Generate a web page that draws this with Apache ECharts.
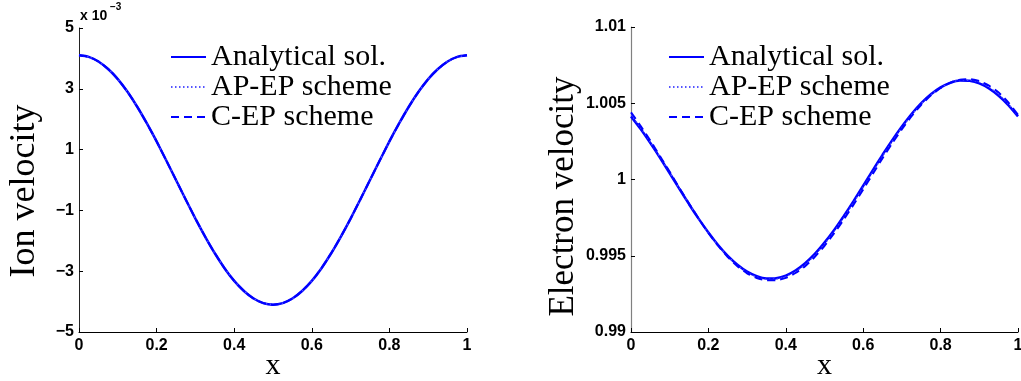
<!DOCTYPE html>
<html>
<head>
<meta charset="utf-8">
<script src="https://cdn.jsdelivr.net/npm/echarts@6/dist/echarts.min.js"></script>
<style>
  html, body { margin: 0; padding: 0; background: #fff; }
  #chart { width: 1021px; height: 381px; }
</style>
</head>
<body>
<div id="chart"></div>
<script>
// x positions of the samples
const xs = [0, 0.025, 0.05, 0.075, 0.1, 0.125, 0.15, 0.175, 0.2, 0.225, 0.25,
            0.275, 0.3, 0.325, 0.35, 0.375, 0.4, 0.425, 0.45, 0.475, 0.5,
            0.525, 0.55, 0.575, 0.6, 0.625, 0.65, 0.675, 0.7, 0.725, 0.75,
            0.775, 0.8, 0.825, 0.85, 0.875, 0.9, 0.925, 0.95, 0.975, 1];

// ion velocity, in units of 1e-3 (all three schemes lie on top of each other)
const ionAnalytical = [4.10, 4.05, 3.90, 3.65, 3.32, 2.90, 2.41, 1.86, 1.27, 0.64, 0.00,
                       -0.64, -1.27, -1.86, -2.41, -2.90, -3.32, -3.65, -3.90, -4.05, -4.10,
                       -4.05, -3.90, -3.65, -3.32, -2.90, -2.41, -1.86, -1.27, -0.64, 0.00,
                       0.64, 1.27, 1.86, 2.41, 2.90, 3.32, 3.65, 3.90, 4.05, 4.10];
const ionAPEP = [4.10, 4.05, 3.90, 3.65, 3.32, 2.90, 2.41, 1.86, 1.27, 0.64, 0.00,
                 -0.64, -1.27, -1.86, -2.41, -2.90, -3.32, -3.65, -3.90, -4.05, -4.10,
                 -4.05, -3.90, -3.65, -3.32, -2.90, -2.41, -1.86, -1.27, -0.64, 0.00,
                 0.64, 1.27, 1.86, 2.41, 2.90, 3.32, 3.65, 3.90, 4.05, 4.10];
const ionCEP = [4.10, 4.05, 3.90, 3.65, 3.32, 2.90, 2.41, 1.86, 1.27, 0.64, 0.00,
                -0.64, -1.27, -1.86, -2.41, -2.90, -3.32, -3.65, -3.90, -4.05, -4.10,
                -4.05, -3.90, -3.65, -3.32, -2.90, -2.41, -1.86, -1.27, -0.64, 0.00,
                0.64, 1.27, 1.86, 2.41, 2.90, 3.32, 3.65, 3.90, 4.05, 4.10];

// electron velocity
const elAnalytical = [1.00414, 1.00331, 1.00239, 1.00142, 1.00041, 0.99939, 0.99838, 0.99742, 0.99652, 0.99570, 0.99499,
                      0.99441, 0.99396, 0.99366, 0.99351, 0.99353, 0.99370, 0.99403, 0.99451, 0.99512, 0.99586,
                      0.99669, 0.99761, 0.99858, 0.99959, 1.00061, 1.00162, 1.00258, 1.00348, 1.00430, 1.00501,
                      1.00559, 1.00604, 1.00634, 1.00649, 1.00647, 1.00630, 1.00597, 1.00549, 1.00488, 1.00414];
const elAPEP = [1.00425, 1.00340, 1.00245, 1.00146, 1.00045, 0.99941, 0.99840, 0.99742, 0.99651, 0.99568, 0.99496,
                0.99437, 0.99390, 0.99360, 0.99346, 0.99347, 0.99363, 0.99395, 0.99442, 0.99503, 0.99576,
                0.99659, 0.99750, 0.99847, 0.99948, 1.00050, 1.00152, 1.00248, 1.00340, 1.00423, 1.00496,
                1.00556, 1.00602, 1.00634, 1.00652, 1.00652, 1.00638, 1.00606, 1.00560, 1.00496, 1.00420];
const elCEP = [1.00440, 1.00350, 1.00255, 1.00152, 1.00050, 0.99944, 0.99842, 0.99743, 0.99650, 0.99566, 0.99492,
               0.99432, 0.99385, 0.99354, 0.99340, 0.99340, 0.99355, 0.99387, 0.99432, 0.99493, 0.99565,
               0.99648, 0.99738, 0.99835, 0.99935, 1.00038, 1.00140, 1.00238, 1.00330, 1.00415, 1.00490,
               1.00552, 1.00600, 1.00635, 1.00655, 1.00658, 1.00645, 1.00615, 1.00570, 1.00505, 1.00425];

const names = ['Analytical sol.', 'AP-EP scheme', 'C-EP scheme'];

const pairs = (ys) => xs.map((x, i) => [x, ys[i]]);
const minus = (s) => String(s).replace('-', '\u2212');

const tickFont = { color: '#000', fontFamily: 'Liberation Sans', fontWeight: 'bold', fontSize: 16 };
const serif = 'Liberation Serif';

const xAxisBase = (gi) => ({
  type: 'value', gridIndex: gi, min: 0, max: 1, interval: 0.2,
  name: 'x', nameLocation: 'middle', nameGap: 19, nameMoveOverlap: false,
  nameTextStyle: { fontFamily: serif, fontSize: 30, color: '#000' },
  axisLine: { onZero: false, lineStyle: { color: '#000', width: 1 } },
  axisTick: { inside: true, length: 4, lineStyle: { color: '#000' } },
  axisLabel: Object.assign({ margin: 6, formatter: (v) => String(parseFloat(v.toFixed(2))) }, tickFont),
  splitLine: { show: false }
});

const lineSeries = (name, data, xi, kind) => {
  const s = {
    name, type: 'line', xAxisIndex: xi, yAxisIndex: xi, data,
    showSymbol: false, symbol: 'none', smooth: 0.2,
    itemStyle: { color: '#0000ff' },
    lineStyle: { color: '#0000ff', width: 2.5, type: 'solid' }
  };
  if (kind === 'dot') s.lineStyle = { color: '#5555ff', width: 1.2, type: [1.5, 2.5] };
  if (kind === 'dash') s.lineStyle = { color: '#0000ff', width: 2, type: [8, 5] };
  return s;
};

// legend shows only the line sample, no marker
const legendBase = (left) => ({
  orient: 'vertical', left, top: 37, itemWidth: 35, itemHeight: 14, itemGap: 0,
  itemStyle: { opacity: 0 },
  textStyle: { fontFamily: serif, fontSize: 30, lineHeight: 29, color: '#000' },
  data: names
});

const chart = echarts.init(document.getElementById('chart'));
chart.setOption({
  animation: false,
  backgroundColor: '#fff',
  grid: [
    { left: 79, right: 554, top: 28, bottom: 49, outerBoundsMode: 'none', containLabel: false },
    { left: 631, right: 3, top: 27, bottom: 49, outerBoundsMode: 'none', containLabel: false }
  ],
  legend: [legendBase(165), legendBase(663)],
  xAxis: [xAxisBase(0), xAxisBase(1)],
  yAxis: [
    {
      type: 'value', gridIndex: 0, min: -5, max: 5, interval: 2,
      name: 'Ion velocity', nameLocation: 'middle', nameGap: 36, nameRotate: 90, nameMoveOverlap: false,
      nameTextStyle: { fontFamily: serif, fontSize: 36, color: '#000', padding: [0, 22, 0, 0] },
      axisLine: { show: true, onZero: false, lineStyle: { color: '#222', width: 1 } },
      axisTick: { show: true, inside: true, length: 4, lineStyle: { color: '#000' } },
      axisLabel: Object.assign({ margin: 5, formatter: (v) => minus(v) }, tickFont),
      splitLine: { show: false }
    },
    {
      type: 'value', gridIndex: 1, min: 0.99, max: 1.01, interval: 0.005,
      name: 'Electron velocity', nameLocation: 'middle', nameGap: 50, nameRotate: 90, nameMoveOverlap: false,
      nameTextStyle: { fontFamily: serif, fontSize: 35, color: '#000', padding: [0, 34, 0, 0] },
      axisLine: { show: true, onZero: false, lineStyle: { color: '#808080', width: 1.2 } },
      axisTick: { show: true, inside: true, length: 4, lineStyle: { color: '#000' } },
      axisLabel: Object.assign({ margin: 5, formatter: (v) => String(parseFloat(v.toFixed(3))) }, tickFont),
      splitLine: { show: false }
    }
  ],
  graphic: [
    { type: 'text', left: 80, top: 9, style: { text: 'x 10', fontFamily: 'Liberation Sans', fontWeight: 'bold', fontSize: 14, fill: '#000' } },
    { type: 'text', left: 110, top: 2, style: { text: '\u22123', fontFamily: 'Liberation Sans', fontWeight: 'bold', fontSize: 10, fill: '#000' } }
  ],
  series: [
    lineSeries(names[0], pairs(ionAnalytical), 0, 'solid'),
    lineSeries(names[1], pairs(ionAPEP), 0, 'dot'),
    lineSeries(names[2], pairs(ionCEP), 0, 'dash'),
    lineSeries(names[0], pairs(elAnalytical), 1, 'solid'),
    lineSeries(names[1], pairs(elAPEP), 1, 'dot'),
    lineSeries(names[2], pairs(elCEP), 1, 'dash')
  ]
});
</script>
</body>
</html>
